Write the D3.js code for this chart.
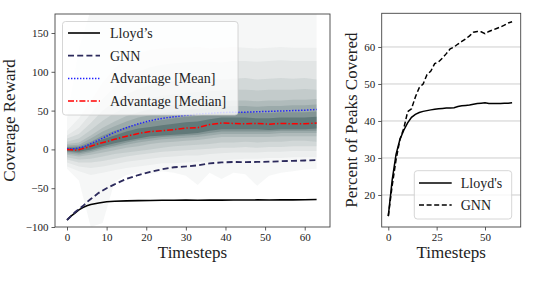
<!DOCTYPE html>
<html lang="en">
<head>
<meta charset="utf-8" />
<title>Coverage reward and peaks covered</title>
<script src="https://cdn.jsdelivr.net/npm/d3@7"></script>
<style>
  body { margin: 0; background: #fff; }
  svg { display: block; }
  svg text { font-family: "Liberation Serif", "Times New Roman", serif !important; fill: #222; }
  .tick text { font-size: 11px; }
  .axis-label { font-size: 17px; }
  .legend text { font-size: 14px; }
</style>
</head>
<body>
<script>
// ---- data: left panel (coverage reward) ----
var lineT = [0, 1, 2, 3, 4, 5, 6, 8, 10, 12, 15, 18, 21, 24, 27, 30, 33, 36, 39, 42, 45, 48, 51, 54, 57, 60, 63];
var lloydReward = [-91, -86, -82, -78, -75, -72.5, -71, -69, -67.5, -66.8, -66.3, -66, -65.8, -65.6, -65.5, -65.3, -65.5, -65.2, -65.4, -65.2, -65.3, -65.1, -65.2, -65, -65, -64.8, -64.6];
var gnnReward = [-91, -86, -81, -77, -73, -68, -64, -56, -50, -45, -38, -33, -29, -25.5, -23, -22, -20.5, -18, -16.8, -16.2, -16.3, -16.2, -15.8, -15.2, -14.8, -14.3, -13.8];
var advMean = [1, 0.5, 1, 2, 3, 5, 7.5, 12, 17, 22, 28, 33, 37, 40, 42, 44, 45.5, 46.5, 47.5, 48, 48, 48.5, 49, 49.5, 50, 50.5, 51.5];
var advMedian = [0, -0.5, -1, -0.5, 1, 2.5, 4, 7.5, 10, 13, 17, 20.5, 23, 24, 25.5, 27.5, 28, 32, 34, 33.5, 33, 33.5, 32.5, 33.5, 33, 33, 34];

// percentile fan of the advantage policy, outer band first
var bandT = [0, 3, 6, 9, 12, 15, 18, 21, 24, 27, 30, 33, 36, 39, 42, 45, 48, 51, 54, 57, 60, 63];
var band1Up = [40, 130, 180, 180, 180, 180, 180, 180, 180, 180, 180, 180, 180, 180, 180, 180, 180, 180, 180, 180, 180, 180];
var band1Lo = [-25, -40, -100, -95, -42, -33, -30, -32, -28, -30, -34, -46, -30, -38, -30, -32, -47, -34, -30, -28, -26, -25];
var band2Up = [24, 40, 62, 86, 104, 117, 124, 128, 130, 131, 131, 132, 130, 131, 132, 131, 130, 131, 132, 131, 131, 131];
var band2Lo = [-22, -28, -33, -30, -27, -24, -22, -20, -18, -18, -17, -16, -16, -14, -13, -12, -12, -11, -11, -10, -10, -10];
var band3Up = [18, 28, 46, 65, 80, 92, 100, 106, 109, 111, 112, 113, 113, 112, 114, 114, 113, 114, 115, 114, 114, 114];
var band3Lo = [-17, -22, -24, -22, -19, -16, -14, -12, -10, -9, -8, -8, -6, -5, -4, -4, -4, -3, -3, -2, -2, -2];
var band4Up = [14, 20, 34, 50, 62, 71, 78, 83, 86, 88, 89, 90, 91, 90, 91, 92, 90, 91, 92, 91, 92, 90];
var band4Lo = [-13, -17, -17, -15, -12, -9, -7, -5, -3, -2, -1, 0, 1, 2, 2, 3, 2, 3, 3, 4, 4, 4];
var band5Up = [10, 14, 25, 37, 47, 55, 61, 66, 69, 71, 73, 74, 75, 76, 77, 77, 76, 77, 77, 77, 78, 77];
var band5Lo = [-10, -13, -12, -9, -6, -4, -2, 0, 2, 4, 5, 6, 7, 9, 9, 10, 9, 10, 10, 11, 11, 10];
var band6Up = [7, 9, 18, 28, 36, 43, 48, 52, 55, 57, 59, 60, 61, 62, 63, 63, 62, 63, 63, 64, 64, 65];
var band6Lo = [-7, -9, -7, -4, -1, 2, 4, 7, 9, 10, 11, 12, 14, 16, 16, 16, 16, 16, 17, 17, 17, 17];
var band7Up = [5, 6, 14, 23, 30, 36, 41, 44, 47, 49, 51, 52, 54, 55, 56, 56, 55, 56, 56, 57, 57, 58];
var band7Lo = [-5, -7, -4, 0, 3, 6, 9, 11, 13, 14, 15, 16, 18, 20, 20, 20, 20, 20, 21, 21, 21, 21];
var band8Up = [3, 4, 10, 18, 24, 29, 33, 36, 38, 40, 42, 43, 46, 48, 48, 48, 47, 47, 48, 48, 48, 49];
var band8Lo = [-3, -5, -2, 2, 5, 9, 12, 14, 16, 17, 18, 19, 21, 23, 23, 23, 23, 23, 24, 24, 24, 24];
var band9Up = [2, 2, 7, 13, 18, 23, 27, 29, 31, 33, 35, 36, 39, 41, 41, 41, 40, 40, 41, 41, 41, 42];
var band9Lo = [-2, -3, 0, 4, 8, 11, 14, 17, 18, 19, 20, 21, 24, 26, 26, 26, 26, 25, 26, 26, 26, 27];

var rewardTicksX = [0, 10, 20, 30, 40, 50, 60];
var rewardTicksY = [-100, -50, 0, 50, 100, 150];

// ---- data: right panel (percent of peaks covered) ----
var peakT = [0, 2, 4, 6, 8, 10, 12, 14, 16, 18, 20, 22, 24, 26, 28, 30, 32, 34, 36, 38, 40, 42, 44, 46, 48, 50, 52, 54, 56, 58, 60, 62, 64];
var lloydPeaks = [14.3, 24, 31, 35, 37.5, 39.5, 41, 41.8, 42.3, 42.6, 42.8, 43, 43.2, 43.3, 43.4, 43.5, 43.5, 43.6, 43.9, 44.1, 44.2, 44.3, 44.5, 44.7, 44.8, 44.9, 44.7, 44.7, 44.7, 44.7, 44.8, 44.8, 44.9];
var gnnPeaks = [14.3, 22.5, 29.5, 35, 38, 42.5, 43.3, 46.5, 49, 50, 52.5, 53.5, 55.5, 56, 57, 58.2, 59.5, 60, 60.8, 61.5, 62.2, 63, 64, 64.2, 64.1, 63.6, 64.2, 64.6, 65, 65.4, 65.9, 66.5, 66.8];
var peakTicksX = [0, 25, 50];
var peakTicksY = [20, 30, 40, 50, 60];

var fanUp = [band1Up, band2Up, band3Up, band4Up, band5Up, band6Up, band7Up, band8Up, band9Up];
var fanLo = [band1Lo, band2Lo, band3Lo, band4Lo, band5Lo, band6Lo, band7Lo, band8Lo, band9Lo];
var fanAlpha = [0.045, 0.045, 0.06, 0.085, 0.09, 0.125, 0.16, 0.23, 0.4];

var serif = "'Liberation Serif', 'Times New Roman', serif";

var svg = d3.select("body").append("svg")
    .attr("width", 538)
    .attr("height", 288)
    .attr("font-family", serif);

// ================= left panel =================
var L = {left: 55, right: 330, top: 14, bottom: 227};
var x = d3.scaleLinear().domain([-3.03, 66.38]).range([L.left, L.right]);
var y = d3.scaleLinear().domain([-100, 174.5]).range([L.bottom, L.top]);

var left = svg.append("g");
left.append("defs").append("clipPath").attr("id", "clipL")
  .append("rect")
    .attr("x", L.left).attr("y", L.top)
    .attr("width", L.right - L.left).attr("height", L.bottom - L.top);

var plotL = left.append("g").attr("clip-path", "url(#clipL)");

// the fan
var fanArea = d3.area()
    .x(function(d) { return x(d.t); })
    .y0(function(d) { return y(d.lo); })
    .y1(function(d) { return y(d.hi); });

fanUp.forEach(function(up, k) {
  var rows = bandT.map(function(t, i) { return {t: t, lo: fanLo[k][i], hi: up[i]}; });
  plotL.append("path")
      .datum(rows)
      .attr("fill", "#2f4f4f")
      .attr("fill-opacity", fanAlpha[k])
      .attr("d", fanArea);
});

function leftLine(vals) {
  return d3.line()
    .x(function(d, i) { return x(lineT[i]); })
    .y(function(d) { return y(d); })(vals);
}

var leftSeries = [
  {name: "Lloyd\u2019s", vals: lloydReward, color: "#000", dash: null, w: 1.6},
  {name: "GNN", vals: gnnReward, color: "#2c2a5c", dash: "6,3.2", w: 1.8},
  {name: "Advantage [Mean]", vals: advMean, color: "#1f1fff", dash: "1.4,1.6", w: 1.5},
  {name: "Advantage [Median]", vals: advMedian, color: "#ff0000", dash: "6,2,1.4,2", w: 1.5}
];

leftSeries.forEach(function(s) {
  plotL.append("path")
      .attr("d", leftLine(s.vals))
      .attr("fill", "none")
      .attr("stroke", s.color)
      .attr("stroke-width", s.w)
      .attr("stroke-dasharray", s.dash);
});

// axes
var xAxisL = left.append("g")
    .attr("transform", "translate(0," + L.bottom + ")")
    .call(d3.axisBottom(x).tickValues(rewardTicksX).tickSize(3.5).tickPadding(3).tickFormat(d3.format("d")));
var yAxisL = left.append("g")
    .attr("transform", "translate(" + L.left + ",0)")
    .call(d3.axisLeft(y).tickValues(rewardTicksY).tickSize(3.5).tickPadding(3)
      .tickFormat(function(d) { return d < 0 ? "\u2212" + (-d) : d; }));
[xAxisL, yAxisL].forEach(function(a) {
  a.attr("font-family", serif).attr("font-size", 11);
  a.select(".domain").remove();
  a.selectAll("line").attr("stroke", "#333").attr("stroke-width", 0.8);
  a.selectAll("text").attr("fill", "#222");
});

left.append("rect")
    .attr("x", L.left).attr("y", L.top)
    .attr("width", L.right - L.left).attr("height", L.bottom - L.top)
    .attr("fill", "none").attr("stroke", "#444").attr("stroke-width", 0.9);

left.append("text").attr("class", "axis-label")
    .attr("text-anchor", "middle")
    .attr("transform", "translate(15," + ((L.top + L.bottom) / 2) + ") rotate(-90)")
    .text("Coverage Reward");
left.append("text").attr("class", "axis-label")
    .attr("text-anchor", "middle")
    .attr("x", (L.left + L.right) / 2).attr("y", 258)
    .text("Timesteps");

// legend
var legL = left.append("g").attr("class", "legend");
legL.append("rect")
    .attr("x", 62.5).attr("y", 21.5).attr("width", 175.5).attr("height", 93.5)
    .attr("rx", 3)
    .attr("fill", "#fff").attr("fill-opacity", 0.8)
    .attr("stroke", "#ccc").attr("stroke-width", 0.8);
leftSeries.forEach(function(s, i) {
  var ly = 33 + i * 22.7;
  legL.append("line")
      .attr("x1", 68).attr("x2", 100).attr("y1", ly).attr("y2", ly)
      .attr("stroke", s.color).attr("stroke-width", s.w)
      .attr("stroke-dasharray", s.dash);
  legL.append("text")
      .attr("x", 110).attr("y", ly + 5)
      .text(s.name);
});

// ================= right panel =================
var R = {left: 381.7, right: 520.7, top: 13.3, bottom: 227};
var x2 = d3.scaleLinear().domain([-3.41, 68.45]).range([R.left, R.right]);
var y2 = d3.scaleLinear().domain([11.35, 69.1]).range([R.bottom, R.top]);

var right = svg.append("g");

// horizontal grid
right.append("g").selectAll("line")
  .data(peakTicksY)
  .enter().append("line")
    .attr("x1", R.left).attr("x2", R.right)
    .attr("y1", function(d) { return y2(d); })
    .attr("y2", function(d) { return y2(d); })
    .attr("stroke", "#c8c8c8").attr("stroke-width", 0.9);

var rightSeries = [
  {name: "Lloyd's", vals: lloydPeaks, dash: null},
  {name: "GNN", vals: gnnPeaks, dash: "5,2.6"}
];

var peakLine = d3.line()
    .x(function(d, i) { return x2(peakT[i]); })
    .y(function(d) { return y2(d); });

rightSeries.forEach(function(s) {
  right.append("path")
      .attr("d", peakLine(s.vals))
      .attr("fill", "none")
      .attr("stroke", "#000")
      .attr("stroke-width", 1.5)
      .attr("stroke-dasharray", s.dash);
});

var xAxisR = right.append("g")
    .attr("transform", "translate(0," + R.bottom + ")")
    .call(d3.axisBottom(x2).tickValues(peakTicksX).tickSize(3.5).tickPadding(3));
var yAxisR = right.append("g")
    .attr("transform", "translate(" + R.left + ",0)")
    .call(d3.axisLeft(y2).tickValues(peakTicksY).tickSize(3.5).tickPadding(3));
[xAxisR, yAxisR].forEach(function(a) {
  a.attr("font-family", serif).attr("font-size", 11);
  a.select(".domain").remove();
  a.selectAll("line").attr("stroke", "#333").attr("stroke-width", 0.8);
  a.selectAll("text").attr("fill", "#222");
});

right.append("rect")
    .attr("x", R.left).attr("y", R.top)
    .attr("width", R.right - R.left).attr("height", R.bottom - R.top)
    .attr("fill", "none").attr("stroke", "#444").attr("stroke-width", 0.9);

right.append("text").attr("class", "axis-label")
    .attr("text-anchor", "middle")
    .attr("transform", "translate(357," + ((R.top + R.bottom) / 2) + ") rotate(-90)")
    .text("Percent of Peaks Covered");
right.append("text").attr("class", "axis-label")
    .attr("text-anchor", "middle")
    .attr("x", (R.left + R.right) / 2).attr("y", 258)
    .text("Timesteps");

var legR = right.append("g").attr("class", "legend");
legR.append("rect")
    .attr("x", 414.3).attr("y", 170.7).attr("width", 97.4).attr("height", 48.3)
    .attr("rx", 3)
    .attr("fill", "#fff").attr("fill-opacity", 0.8)
    .attr("stroke", "#ccc").attr("stroke-width", 0.8);
rightSeries.forEach(function(s, i) {
  var ly = 183 + i * 22;
  legR.append("line")
      .attr("x1", 419).attr("x2", 451.7).attr("y1", ly).attr("y2", ly)
      .attr("stroke", "#000").attr("stroke-width", 1.5)
      .attr("stroke-dasharray", s.dash);
  legR.append("text")
      .attr("x", 460.7).attr("y", ly + 5)
      .text(s.name);
});
</script>
</body>
</html>
